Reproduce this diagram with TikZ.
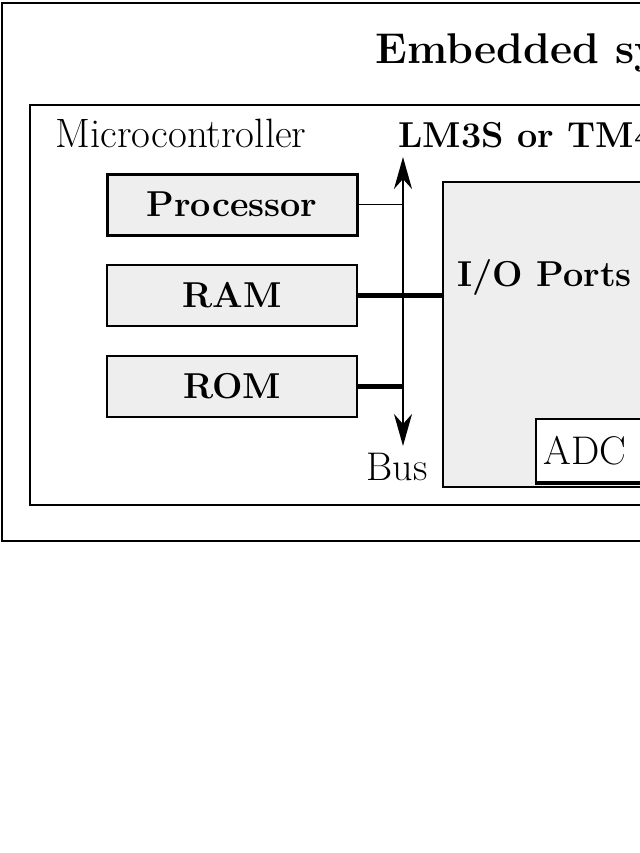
\documentclass[tikz,border=0pt]{standalone}
\usepackage{tikz}
\usetikzlibrary{positioning}
\usetikzlibrary{arrows.meta}
\definecolor{boxgray}{RGB}{238,238,238}
\tikzset{
  unitbox/.style={draw,fill=boxgray,line width=1pt,minimum width=125pt,minimum height=30.5pt,inner sep=0pt,font=\fontsize{18}{22}\selectfont\bfseries},
  plainlbl/.style={anchor=base west,inner sep=0pt,font=\fontsize{20.5}{24}\selectfont},
  boldlbl/.style={anchor=base west,inner sep=0pt,font=\fontsize{18}{22}\selectfont\bfseries},
  wire/.style={line width=0.8pt},
  thickwire/.style={line width=2.2pt},
  bustip/.tip={Stealth[length=16pt,width=9pt,inset=5pt]}
}
\begin{document}
\begin{tikzpicture}[x=0.5pt,y=-0.5pt]
       \useasboundingbox[fill=white] (0,0) rectangle (640,853);
       \clip (0,0) rectangle (640,853);
       \draw[line width=1pt] (2,3) rectangle (700,541);
       \draw[line width=1pt] (30,105) rectangle (700,505);
       \node[anchor=base west,inner sep=0pt,font=\fontsize{21.5}{26}\selectfont\bfseries] (title) at (375,63) {Embedded system};
       \node[plainlbl] (mcu) at (55,147) {Microcontroller};
       \node[boldlbl] (chip) at (398,147) {LM3S or TM4C};
       \node[unitbox,line width=1.5pt] (proc) at (232,204.5) {Processor};
       \node[unitbox] (ram) at (232,295.5) {RAM};
       \node[unitbox] (rom) at (232,386.5) {ROM};
       \node[draw,fill=boxgray,line width=1pt,minimum width=128.5pt,minimum height=152.5pt,inner sep=0pt] (io) at (571.5,334.5) {};
       \node[boldlbl] (ioname) at (457,286) {I/O Ports};
       \node[draw,fill=white,line width=1pt,minimum width=82pt,minimum height=31.5pt,inner sep=0pt] (adc) at (618,450.5) {};
       \draw[line width=2pt] (adc.south west) -- (adc.south east);
       \node[plainlbl,font=\fontsize{20}{24}\selectfont] (adcname) at (543,464) {ADC};
       \coordinate (bustop) at (403,157);
       \coordinate (busbot) at (403,446);
       \draw[bustip-bustip,line width=1pt] (bustop) -- (busbot);
       \node[plainlbl,font=\fontsize{20}{24}\selectfont] (buslbl) at (366,480) {Bus};
       \draw[wire] (proc.east) -- (proc.east -| bustop);
       \draw[thickwire] (ram.east) -- (io.west |- ram.east);
       \draw[thickwire] (rom.east) -- (rom.east -| bustop);
\end{tikzpicture}
\end{document}
